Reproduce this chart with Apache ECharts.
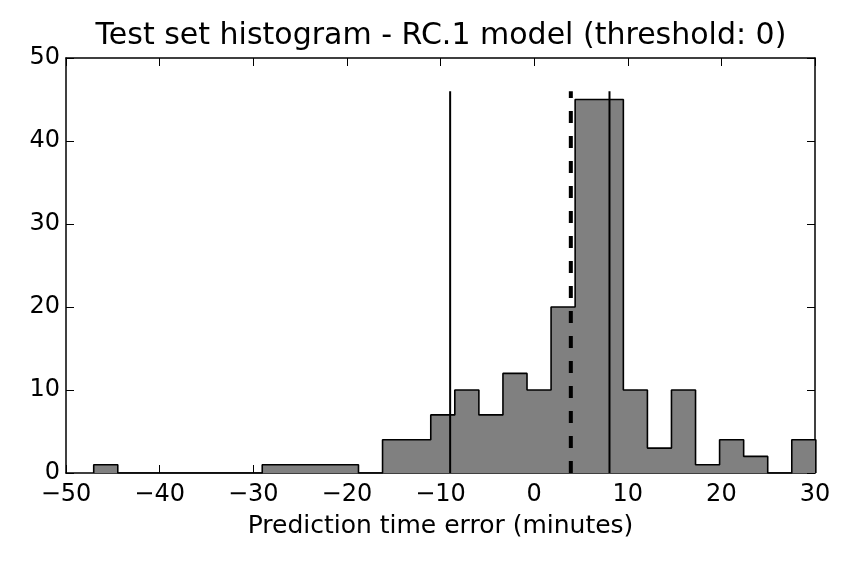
<!DOCTYPE html>
<html>
<head>
<meta charset="utf-8">
<script src="https://cdn.jsdelivr.net/npm/echarts@6/dist/echarts.min.js"></script>
<style>
  html, body { margin: 0; padding: 0; background: #fff; }
  #chart { width: 857px; height: 569px; }
</style>
</head>
<body>
<div id="chart"></div>
<script>
// Histogram bin edges (minutes)
var binEdges = [-47.04, -44.47, -41.90, -39.33, -36.76, -34.18, -31.61, -29.04, -26.47, -23.90,
                -21.33, -18.76, -16.19, -13.61, -11.04, -8.47, -5.90, -3.33, -0.76, 1.81,
                4.38, 6.95, 9.53, 12.10, 14.67, 17.24, 19.81, 22.38, 24.95, 27.52, 30.09];
// Counts per bin
var binCounts = [1, 0, 0, 0, 0, 0, 0, 1, 1, 1,
                 1, 0, 4, 4, 7, 10, 7, 12, 10, 20,
                 45, 45, 10, 3, 10, 1, 4, 2, 0, 4];
// Vertical reference lines
var solidLines = [-8.97, 8.05];
var dashedLine = 3.92;
var refLineTop = 46;
// Axis ticks
var xTicks = [-50, -40, -30, -20, -10, 0, 10, 20, 30];
var yTicks = [0, 10, 20, 30, 40, 50];

var titleText = 'Test set histogram - RC.1 model (threshold: 0)';
var xLabel = 'Prediction time error (minutes)';

// step outline points
var stepData = [[binEdges[0], 0]];
for (var i = 0; i < binCounts.length; i++) {
  stepData.push([binEdges[i], binCounts[i]]);
}
stepData.push([binEdges[binEdges.length - 1], binCounts[binCounts.length - 1]]);
stepData.push([binEdges[binEdges.length - 1], 0]);

var FONT = 'DejaVu Sans';
var fmtMinus = function (v) { return String(v).replace('-', '\u2212'); };

var chart = echarts.init(document.getElementById('chart'));
var axisLineStyle = { show: true, onZero: false, lineStyle: { color: '#000', width: 1.5 } };
var tickStyle = { show: true, inside: true, length: 8, lineStyle: { color: '#000', width: 1 } };

var series = [{
  type: 'line',
  data: stepData,
  step: 'end',
  symbol: 'none',
  silent: true,
  lineStyle: { color: '#000', width: 1.6 },
  areaStyle: { color: '#808080', opacity: 1 },
  z: 2
}];
solidLines.forEach(function (x) {
  series.push({
    type: 'line', data: [[x, 0], [x, refLineTop]], symbol: 'none', silent: true,
    lineStyle: { color: '#000', width: 2 }, z: 3
  });
});
series.push({
  type: 'line', data: [[dashedLine, 0], [dashedLine, refLineTop]], symbol: 'none', silent: true,
  lineStyle: { color: '#000', width: 4, type: [12, 13] }, z: 3
});

chart.setOption({
  animation: false,
  title: {
    text: titleText,
    left: 441, textAlign: 'center', top: 21, padding: 0,
    textStyle: { fontFamily: FONT, fontSize: 30, fontWeight: 'normal', color: '#000' }
  },
  grid: { left: 66, right: 42, top: 58, bottom: 96, containLabel: false },
  xAxis: [{
    type: 'value', min: xTicks[0], max: xTicks[xTicks.length - 1], interval: 10,
    position: 'bottom',
    axisLine: axisLineStyle, axisTick: tickStyle, splitLine: { show: false },
    axisLabel: { margin: 10, fontFamily: FONT, fontSize: 24, color: '#000', formatter: fmtMinus },
    name: xLabel, nameLocation: 'middle', nameGap: 41,
    nameTextStyle: { fontFamily: FONT, fontSize: 25, color: '#000' }
  }, {
    type: 'value', min: xTicks[0], max: xTicks[xTicks.length - 1], interval: 10,
    position: 'top',
    axisLine: axisLineStyle, axisTick: tickStyle, splitLine: { show: false },
    axisLabel: { show: false }
  }],
  yAxis: [{
    type: 'value', min: yTicks[0], max: yTicks[yTicks.length - 1], interval: 10,
    position: 'left',
    axisLine: axisLineStyle, axisTick: tickStyle, splitLine: { show: false },
    axisLabel: { margin: 6, fontFamily: FONT, fontSize: 24, color: '#000' }
  }, {
    type: 'value', min: yTicks[0], max: yTicks[yTicks.length - 1], interval: 10,
    position: 'right',
    axisLine: axisLineStyle, axisTick: tickStyle, splitLine: { show: false },
    axisLabel: { show: false }
  }],
  series: series
});
</script>
</body>
</html>
